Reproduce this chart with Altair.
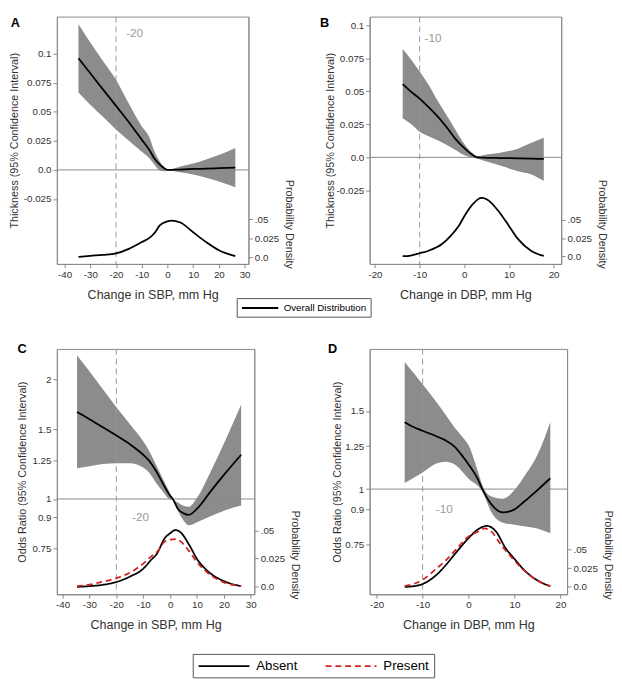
import altair as alt
import pandas as pd

FONT = "Liberation Sans"
BAND = "#8c8c8c"
RED = "#d42020"

# ---------------- Panel A: SBP change vs thickness ----------------
a_x = [-34.6, -30, -25, -20, -15, -10, -7, -5, -3, -1, 0, 5, 10, 15, 20, 26.4]
a_est = [0.096, 0.083, 0.069, 0.055, 0.041, 0.026, 0.017, 0.0095, 0.0045, 0.001, 0.0, 0.0003, 0.0008, 0.0011, 0.0015, 0.002]
a_hi = [0.1253, 0.1094, 0.0934, 0.0775, 0.0568, 0.0375, 0.0279, 0.0155, 0.0072, 0.002, 0.0003, 0.003, 0.0055, 0.009, 0.0128, 0.0188]
a_lo = [0.0665, 0.056, 0.0454, 0.0348, 0.0251, 0.0155, 0.0099, 0.0044, -0.0006, -0.0012, -0.0003, -0.002, -0.0039, -0.0068, -0.010, -0.0149]
a_dx = [-34.6, -30, -25, -20, -15, -10, -7, -5, -3, 0, 1.5, 5, 10, 15, 20, 26.4]
a_dens = [0.0004, 0.0017, 0.003, 0.005, 0.011, 0.020, 0.0255, 0.032, 0.042, 0.0474, 0.0485, 0.046, 0.033, 0.020, 0.0091, 0.0013]

# ---------------- Panel B: DBP change vs thickness ----------------
b_x = [-13.8, -12, -10, -8, -6, -4, -2, 0, 1, 2, 3, 5, 8, 12, 15, 17.8]
b_est = [0.0555, 0.050, 0.0445, 0.038, 0.031, 0.023, 0.014, 0.007, 0.004, 0.0015, 0.0, -0.0003, -0.0005, -0.0008, -0.001, -0.0012]
b_hi = [0.0821, 0.0745, 0.065, 0.055, 0.043, 0.032, 0.021, 0.0102, 0.006, 0.003, 0.001, 0.0022, 0.0035, 0.0066, 0.011, 0.0149]
b_lo = [0.0297, 0.0255, 0.0195, 0.016, 0.013, 0.0095, 0.0055, 0.0017, 0.0005, -0.0005, -0.001, -0.0032, -0.0062, -0.0105, -0.0129, -0.0178]
b_dx = [-13.8, -12, -10, -8, -5, -3, -1, 0, 2, 3.8, 5, 8, 10, 12, 15, 17.8]
b_dens = [0.0004, 0.0013, 0.0044, 0.0079, 0.017, 0.0285, 0.044, 0.0548, 0.072, 0.0798, 0.078, 0.059, 0.0417, 0.024, 0.0075, 0.0009]

# ---------------- Panel C: SBP change vs odds ratio ----------------
c_x = [-34.6, -30, -25, -20, -15, -10, -8, -5, -3, 0, 1, 3, 5, 7, 10, 15, 20, 26.4]
c_est = [1.657, 1.59, 1.517, 1.446, 1.375, 1.293, 1.253, 1.17, 1.104, 1.019, 1.0, 0.942, 0.92, 0.912, 0.945, 1.044, 1.15, 1.293]
c_hi = [2.30, 2.10, 1.89, 1.703, 1.546, 1.398, 1.33, 1.211, 1.135, 1.034, 1.003, 0.978, 0.962, 0.956, 1.007, 1.17, 1.38, 1.73]
c_lo = [1.196, 1.21, 1.225, 1.23, 1.23, 1.20, 1.17, 1.093, 1.05, 0.998, 0.995, 0.93, 0.883, 0.858, 0.874, 0.904, 0.934, 0.963]
c_dx = [-34.6, -30, -25, -20, -15, -10, -7, -5, -2, 0, 2, 4, 7, 10, 15, 20, 26.4]
c_absent = [0.0, 0.0006, 0.0018, 0.0043, 0.009, 0.016, 0.024, 0.029, 0.043, 0.0474, 0.0503, 0.048, 0.0375, 0.0247, 0.0119, 0.0051, 0.0006]
c_present = [0.0006, 0.002, 0.0045, 0.0077, 0.0125, 0.0205, 0.027, 0.0305, 0.040, 0.0418, 0.0423, 0.040, 0.0318, 0.0219, 0.0105, 0.004, 0.0006]

# ---------------- Panel D: DBP change vs odds ratio ----------------
d_x = [-13.9, -12, -10, -7, -5, -3, -1, 0, 2, 3, 5, 7.5, 10, 12, 15, 17.8]
d_est = [1.416, 1.381, 1.354, 1.316, 1.288, 1.246, 1.175, 1.137, 1.055, 1.0, 0.923, 0.886, 0.9, 0.935, 0.995, 1.058]
d_hi = [1.936, 1.83, 1.723, 1.572, 1.471, 1.376, 1.299, 1.256, 1.10, 1.02, 0.962, 0.951, 0.995, 1.063, 1.195, 1.416]
d_lo = [1.032, 1.06, 1.09, 1.142, 1.152, 1.137, 1.085, 1.055, 1.017, 0.987, 0.886, 0.84, 0.831, 0.825, 0.815, 0.795]
d_dx_abs = [-13.9, -12, -10, -7, -5, -3, 0, 2, 4, 6, 8, 10, 12, 15, 17.8]
d_absent = [0.0, 0.0009, 0.0039, 0.016, 0.0289, 0.044, 0.0655, 0.077, 0.0819, 0.0741, 0.0526, 0.0375, 0.0233, 0.0086, 0.0009]
d_dx_pres = [-13.9, -10, -7, -5, -3, 0, 2, 3.5, 5, 7, 10, 12, 15, 17.8]
d_present = [0.0009, 0.0095, 0.0246, 0.0353, 0.0483, 0.0677, 0.0741, 0.0784, 0.0741, 0.057, 0.0353, 0.0224, 0.0086, 0.0009]

sbp_ticks = [-40, -30, -20, -10, 0, 10, 20, 30]
dbp_ticks = [-20, -10, 0, 10, 20]
thick_ticks = [-0.025, 0, 0.025, 0.05, 0.075, 0.1]
or_ticks_c = [0.75, 0.9, 1, 1.25, 1.5, 2]
or_ticks_d = [0.75, 0.9, 1, 1.25, 1.5]
dens_ticks = [0, 0.025, 0.05]

THICK_LABEL = "datum.value == 0 ? '0.0' : '' + datum.value"
OR_LABEL = "'' + datum.value"
DENS_LABEL = "datum.value == 0 ? '0.0' : (datum.value == 0.05 ? '.05' : '' + datum.value)"

# long horizontal legend sample line (path in symbol units)
LINE_SYMBOL = "M-1,0H7"


def build_panel(letter, lx, ly, eff, dens, xdom, xticks, xtitle, ydom, ylog, yticks,
                ylabel, ytitle, ytitle_x, ref_y, vline_x, note, note_x, note_y,
                ddom, w, h, color_enc, dash_enc):
    xs = alt.Scale(domain=xdom, nice=False, zero=False)
    xax = alt.Axis(values=xticks, labelExpr="'' + datum.value", title=xtitle,
                   titleFontSize=12.8, titleY=31, titleBaseline="middle", titleAlign="center")

    def X(field=None, datum=None):
        if datum is not None:
            return alt.X(datum=datum, type="quantitative", scale=xs, axis=xax)
        return alt.X(field, type="quantitative", scale=xs, axis=xax)

    ys = alt.Scale(domain=ydom, type="log" if ylog else "linear", nice=False, zero=False)
    yax = alt.Axis(values=yticks, labelExpr=ylabel, title=ytitle, titleX=ytitle_x,
                   titleY=h / 2, titleAngle=270, titleAlign="center", titleBaseline="middle")

    one = pd.DataFrame({"k": [0]})
    band = alt.Chart(eff).mark_area(color=BAND, opacity=1, interpolate="monotone").encode(
        x=X("x"), y=alt.Y("lo:Q", scale=ys, axis=yax), y2="hi:Q")
    href = alt.Chart(one).mark_rule(color="#888888", strokeWidth=1).encode(
        y=alt.Y(datum=ref_y, type="quantitative", scale=ys, axis=yax))
    vref = alt.Chart(one).mark_rule(color="#999999", strokeWidth=1, strokeDash=[6, 4]).encode(
        x=X(datum=vline_x))
    line = alt.Chart(eff).mark_line(color="black", strokeWidth=1.8, interpolate="monotone").encode(
        x=X("x"), y=alt.Y("est:Q", scale=ys, axis=yax))
    note_t = alt.Chart(one).mark_text(color="#999999", fontSize=12, font=FONT).encode(
        x=X(datum=note_x), y=alt.Y(datum=note_y, type="quantitative", scale=ys, axis=yax),
        text=alt.value(note))
    letter_t = alt.Chart(one).mark_text(color="black", fontSize=13, fontWeight="bold", font=FONT,
                                        align="center", baseline="middle").encode(
        x=alt.value(lx), y=alt.value(ly), text=alt.value(letter))
    inner = alt.layer(band, href, vref, line, note_t, letter_t)

    ds = alt.Scale(domain=ddom, nice=False, zero=False)
    dax = alt.Axis(orient="right", values=dens_ticks, labelExpr=DENS_LABEL,
                   title="Probability Density", titleAngle=90, titleX=41, titleY=h * 0.838,
                   titleAlign="center", titleBaseline="middle")
    enc = dict(x=X("x"), y=alt.Y("d:Q", scale=ds, axis=dax), color=color_enc)
    if dash_enc is not None:
        enc["strokeDash"] = dash_enc
    dline = alt.Chart(dens).mark_line(strokeWidth=1.8, interpolate="monotone").encode(**enc)
    return alt.layer(inner, dline).resolve_scale(y="independent").properties(width=w, height=h)


# tables
eff_a = pd.DataFrame({"x": a_x, "est": a_est, "lo": a_lo, "hi": a_hi})
eff_b = pd.DataFrame({"x": b_x, "est": b_est, "lo": b_lo, "hi": b_hi})
eff_c = pd.DataFrame({"x": c_x, "est": c_est, "lo": c_lo, "hi": c_hi})
eff_d = pd.DataFrame({"x": d_x, "est": d_est, "lo": d_lo, "hi": d_hi})
dens_a = pd.DataFrame({"x": a_dx, "d": a_dens, "series": "Overall Distribution"})
dens_b = pd.DataFrame({"x": b_dx, "d": b_dens})
dens_c = pd.concat([
    pd.DataFrame({"x": c_dx, "d": c_absent, "group": "Absent"}),
    pd.DataFrame({"x": c_dx, "d": c_present, "group": "Present"}),
], ignore_index=True)
dens_d = pd.concat([
    pd.DataFrame({"x": d_dx_abs, "d": d_absent, "group": "Absent"}),
    pd.DataFrame({"x": d_dx_pres, "d": d_present, "group": "Present"}),
], ignore_index=True)

WA, HA = 196, 253
WC, HC = 202, 251

leg1 = alt.Legend(orient="none", legendX=184, legendY=HA + 35, title=None, direction="horizontal",
                  symbolType=LINE_SYMBOL, symbolSize=86, symbolStrokeWidth=2,
                  labelFontSize=10, labelFont=FONT, labelColor="black", labelOffset=32,
                  labelExpr="datum.label + '\u00a0\u00a0\u00a0\u00a0\u00a0\u00a0\u00a0\u00a0'",
                  strokeColor="#555555", fillColor="white", padding=4)
color_a = alt.Color("series:N", scale=alt.Scale(domain=["Overall Distribution"], range=["black"]),
                    legend=leg1)

leg2 = alt.Legend(orient="none", legendX=139, legendY=HC + 61, title=None, direction="horizontal",
                  symbolType=LINE_SYMBOL, symbolSize=169, symbolStrokeWidth=2,
                  labelFontSize=13.5, labelFont=FONT, labelColor="black", labelOffset=45,
                  columnPadding=24, strokeColor="#555555", fillColor="white", padding=5)
grp_scale_c = alt.Scale(domain=["Absent", "Present"], range=["black", RED])
dash_scale = alt.Scale(domain=["Absent", "Present"], range=[[1, 0], [6, 4]])
color_c = alt.Color("group:N", scale=grp_scale_c, legend=leg2)
dash_c = alt.StrokeDash("group:N", scale=dash_scale, legend=leg2)
color_d = alt.Color("group:N", scale=grp_scale_c, legend=None)
dash_d = alt.StrokeDash("group:N", scale=dash_scale, legend=None)

pA = build_panel("A", -42.5, 7, eff_a, dens_a, [-43, 31.5], sbp_ticks, "Change in SBP, mm Hg",
                 [-0.0808, 0.1317], False, thick_ticks, THICK_LABEL,
                 "Thickness (95% Confidence Interval)", -43, 0, -20, "-20", -12.75, 0.1175,
                 [-0.009, 0.319], WA, HA, color_a, None)
pB = build_panel("B", -46, 7, eff_b, dens_b, [-21.2, 21.7], dbp_ticks, "Change in DBP, mm Hg",
                 [-0.0807, 0.1066], False, thick_ticks, THICK_LABEL,
                 "Thickness (95% Confidence Interval)", -40, 0, -10, "-10", -7.0, 0.0906,
                 [-0.0101, 0.3267], WA, HA, alt.value("black"), None)
pC = build_panel("C", -35.5, 0, eff_c, dens_c, [-42.1, 31.3], sbp_ticks, "Change in SBP, mm Hg",
                 [0.575, 2.39], True, or_ticks_c, OR_LABEL,
                 "Odds Ratio (95% Confidence Interval)", -35, 1, -20, "-20", -11, 0.9,
                 [-0.0066, 0.2106], WC, HC, color_c, dash_c)
pD = build_panel("D", -38, 0, eff_d, dens_d, [-21.53, 21.45], dbp_ticks, "Change in DBP, mm Hg",
                 [0.579, 2.071], True, or_ticks_d, OR_LABEL,
                 "Odds Ratio (95% Confidence Interval)", -33, 1, -10, "-10", -5.3, 0.9,
                 [-0.00995, 0.3195], WC, HC, color_d, dash_d)

row1 = alt.hconcat(pA, pB, spacing=124, bounds="flush").resolve_scale(color="independent", strokeDash="independent")
row2 = alt.hconcat(pC, pD, spacing=118, bounds="flush").resolve_scale(color="independent", strokeDash="independent")

chart = alt.vconcat(row1, row2, spacing=25).resolve_scale(
    color="independent", strokeDash="independent"
).properties(padding=0, background="white").configure_axis(
    labelFont=FONT, titleFont=FONT, labelFontSize=10, titleFontSize=11,
    labelColor="#333333", titleColor="#333333", titleFontWeight="normal",
    tickColor="#888888", domainColor="#888888", tickSize=4, grid=False,
).configure_view(stroke="#888888").configure_text(font=FONT)

chart.save("out.html", embed_options={"renderer": "svg", "actions": False})
